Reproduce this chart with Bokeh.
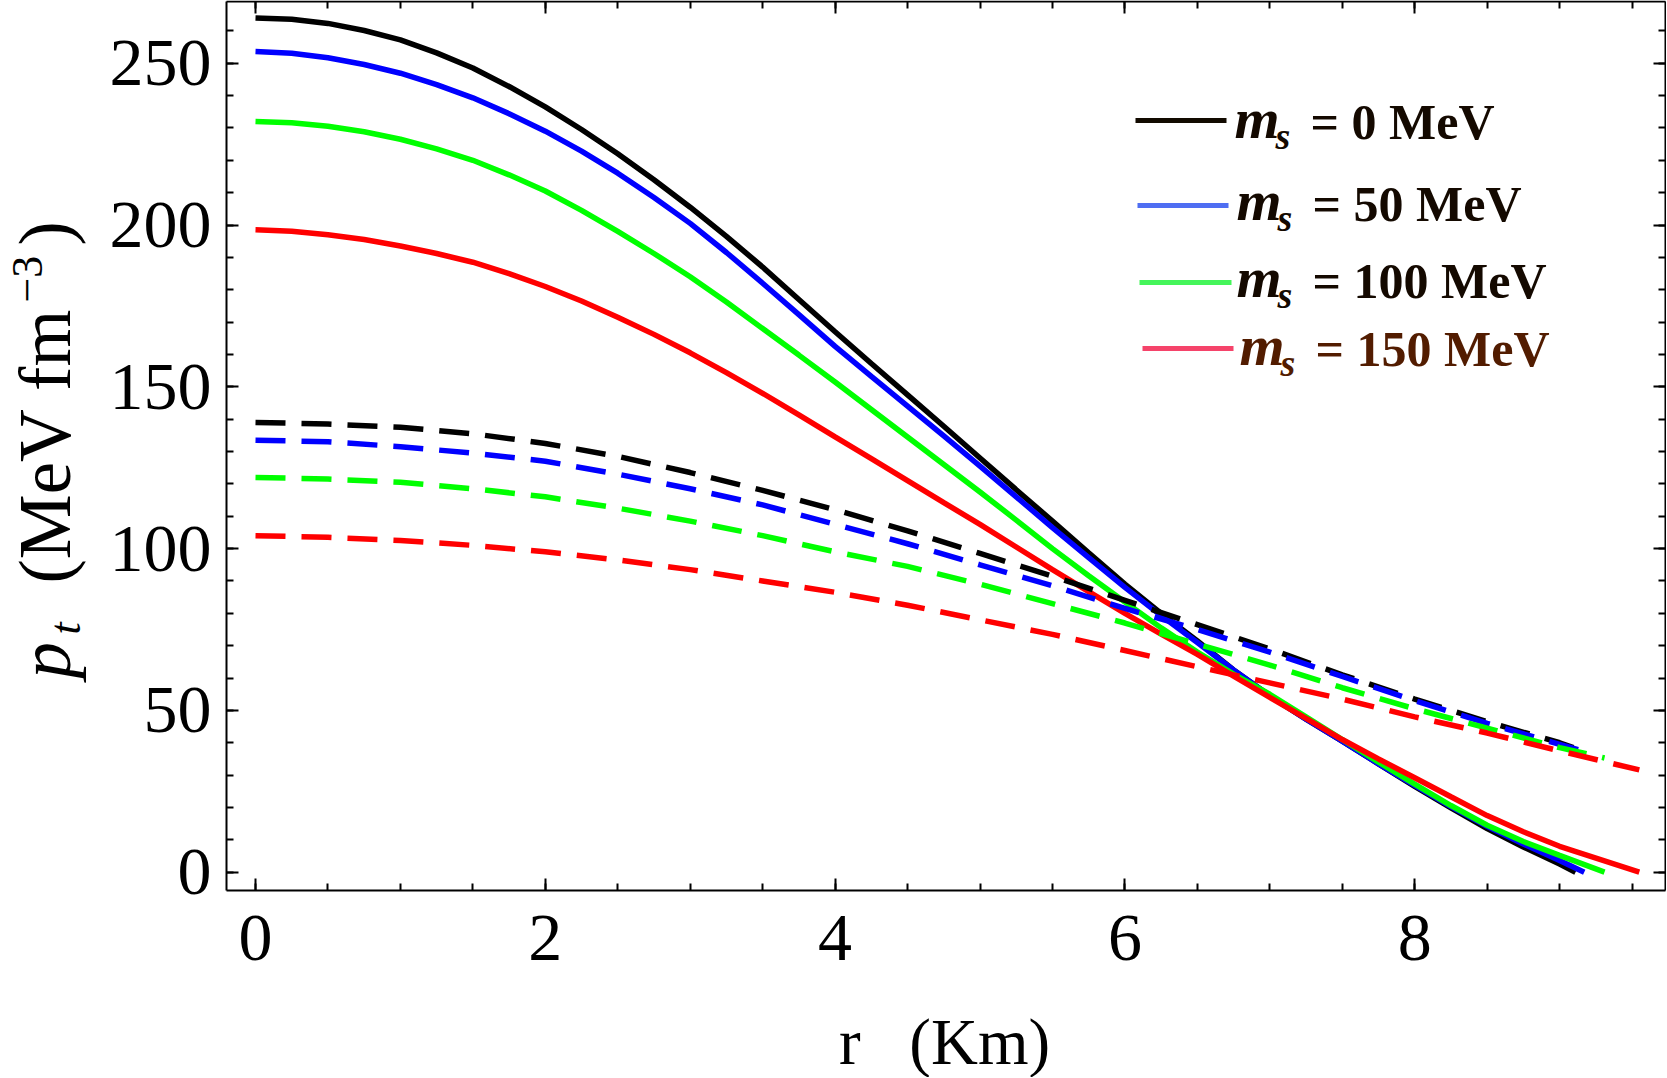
import math
from bokeh.plotting import figure
from bokeh.models import (Range1d, LinearAxis, SingleIntervalTicker, Label, BoxAnnotation,
                          CustomJSTickFormatter)
from bokeh.embed import file_html
from bokeh.resources import INLINE

# ---------------- data ----------------
ms_values = ["0", "50", "100", "150"]
r_end = [9.11, 9.17, 9.31, 9.55]          # radius where each star ends (Km)

r_fine = [0, 0.25, 0.5, 0.75, 1, 1.25, 1.5, 1.75, 2, 2.25, 2.5, 2.75, 3, 3.25, 3.5, 3.75,
          4, 4.25, 4.5, 4.75, 5, 5.25, 5.5, 5.75, 6, 6.25, 6.5, 6.75, 7, 7.25, 7.5, 7.75,
          8, 8.25, 8.5, 8.75, 9]
r_coarse = [0, 0.5, 1, 1.5, 2, 2.5, 3, 3.5, 4, 4.5, 5, 5.5, 6, 6.5, 7, 7.5, 8, 8.5, 9]

# solid curves (on r_fine, then the end point)
pt_solid_ms0 = [264, 263.6, 262.3, 260.1, 257.2, 253.2, 248.5, 242.8, 236.5, 229.5, 222, 214,
                205.5, 196.5, 187, 177, 167, 157.2, 147.5, 137.8, 128, 118.2, 108.5, 98.7,
                89, 80, 71.5, 62.5, 54.5, 47.3, 40.5, 33.5, 26.5, 19.9, 13.5, 7.8, 2.5, 0]
pt_solid_ms50 = [253.6, 253.1, 251.7, 249.6, 246.9, 243.4, 239.3, 234.4, 229, 222.8, 216, 208.5,
                 200.5, 191.5, 182, 172.3, 162.5, 153.2, 144, 134.8, 125.5, 116, 106.5, 97.2,
                 88, 79.3, 71, 62.5, 54.5, 47.3, 40.5, 33.5, 26.8, 20.3, 14.2, 8.7, 3.6, 0]
pt_solid_ms100 = [232, 231.6, 230.5, 228.8, 226.5, 223.5, 220, 215.5, 210.5, 204.5, 198, 191.2,
                  184, 176.2, 168, 159.8, 151.5, 143, 134.5, 126, 117.5, 108.8, 100, 91.6,
                  83.5, 75.5, 68, 61.2, 55, 48, 41, 34, 27.2, 20.6, 14.5, 9.5, 5.2, 0]
pt_solid_ms150 = [198.5, 198.1, 197, 195.5, 193.5, 191.2, 188.5, 185, 181, 176.5, 171.5, 166.2,
                  160.5, 154.4, 148, 141.3, 134.5, 127.8, 121, 114.2, 107.5, 100.5, 93.5, 86.7,
                  80, 73.6, 67.3, 60.6, 54, 47.5, 41, 35, 29.2, 23.3, 17.5, 12.5, 8, 0]

# dashed curves (on r_coarse, then the end point)
pt_dash_ms0 = [139, 138.5, 137.5, 135.5, 132.5, 128.5, 123.5, 118, 112, 105.5, 98.5, 91.5,
               84, 76.5, 69, 61, 53.5, 46.5, 40, 38.3]
pt_dash_ms50 = [133.5, 133, 131.5, 129.5, 127, 123, 118.5, 113.5, 107.5, 101.5, 95, 88.5,
                81.5, 75, 68, 60.5, 53, 46, 39.5, 37.3]
pt_dash_ms100 = [122, 121.5, 120.5, 118.5, 116, 112.5, 108.5, 104, 99, 94.5, 89, 83, 77, 70.5,
                 64, 57, 50.5, 44.5, 38.5, 35.3]
pt_dash_ms150 = [104, 103.5, 102.5, 101, 99, 96.5, 93.5, 90, 86.5, 82.5, 78, 73.5, 68.5, 63.5,
                 58.5, 53.5, 48, 43, 37.5, 31.6]

solid_series = [pt_solid_ms0, pt_solid_ms50, pt_solid_ms100, pt_solid_ms150]
dash_series = [pt_dash_ms0, pt_dash_ms50, pt_dash_ms100, pt_dash_ms150]

x_tick_interval = 2
y_tick_interval = 50

# ---------------- layout / styles ----------------
W, H = 1666, 1077                 # canvas size (px)
PX_X, X0 = 144.9, 255.0           # px per Km, pixel column of r = 0
PX_Y, Y0 = 3.236, 871.7           # px per unit, pixel row of p = 0
BOX_L, BOX_R, BOX_T, BOX_B = 226, 1665, 1, 890   # plot box edges (px)


def dx(px):
    return (px - X0) / PX_X


def dy(py):
    return (Y0 - py) / PX_Y


line_colors = ["#000000", "#0000ff", "#00ff00", "#ff0000"]
legend_swatch_colors = ["#120a00", "#4f6ef2", "#45f55a", "#f5436a"]
legend_text_colors = ["#140900", "#140900", "#140900", "#521c00"]
FONT = "Liberation Serif"

p = figure(width=W, height=H,
           x_range=Range1d(dx(0), dx(W)), y_range=Range1d(dy(H), dy(0)),
           output_backend="svg", toolbar_location=None,
           min_border_left=0, min_border_right=0, min_border_top=0, min_border_bottom=0)
p.grid.visible = False
p.background_fill_color = "white"
p.border_fill_color = "white"
p.outline_line_color = None

xb = (dx(BOX_L), dx(BOX_R))
yb = (dy(BOX_B), dy(BOX_T))


def style_axis(ax, labels=True):
    ax.axis_line_width = 2
    ax.axis_line_color = "black"
    ax.major_tick_in = 12
    ax.major_tick_out = 0
    ax.minor_tick_in = 7
    ax.minor_tick_out = 0
    ax.major_tick_line_width = 2
    ax.minor_tick_line_width = 2
    ax.major_tick_line_color = "black"
    ax.minor_tick_line_color = "black"
    if labels:
        ax.major_label_text_font = FONT
        ax.major_label_text_font_size = "68px"
        ax.major_label_text_color = "black"
    else:
        ax.formatter = CustomJSTickFormatter(code="return ''")
        ax.major_label_standoff = 0


bx = p.xaxis[0]
ly = p.yaxis[0]
bx.ticker = SingleIntervalTicker(interval=x_tick_interval, num_minor_ticks=4)
ly.ticker = SingleIntervalTicker(interval=y_tick_interval, num_minor_ticks=5)
bx.fixed_location = yb[0]
ly.fixed_location = xb[0]
bx.bounds = xb
ly.bounds = yb
style_axis(bx)
style_axis(ly)
bx.major_label_standoff = 25
ly.major_label_standoff = 15

top_ax = LinearAxis(ticker=SingleIntervalTicker(interval=x_tick_interval, num_minor_ticks=4),
                    fixed_location=yb[1], bounds=xb)
right_ax = LinearAxis(ticker=SingleIntervalTicker(interval=y_tick_interval, num_minor_ticks=5),
                      fixed_location=xb[1], bounds=yb)
style_axis(top_ax, labels=False)
style_axis(right_ax, labels=False)
p.add_layout(top_ax, "above")
p.add_layout(right_ax, "right")

# ---------------- curves ----------------
for ys, c, re in zip(solid_series, line_colors, r_end):
    p.line(r_fine + [re], ys, line_color=c, line_width=5.5)
for ys, c, re in zip(dash_series, line_colors, r_end):
    p.line(r_coarse + [re], ys, line_color=c, line_width=5.5, line_dash="30 16")

# ---------------- texts (pixel positions given as text baselines) ----------------
MID = 0.3375   # (ascent - descent) / 2 in em for Liberation Serif


def add_text(txt, px, py, size, style="normal", color="black", angle=0.0, align="left"):
    if angle == 0.0:
        ax_, ay_ = px, py - MID * size
    else:  # text rotated to read upwards: baseline lies to the right
        ax_, ay_ = px - MID * size, py
    p.add_layout(Label(x=ax_, y=H - ay_, x_units="screen", y_units="screen",
                       text=txt, text_font=FONT, text_font_size=f"{size}px",
                       text_font_style=style, text_color=color, angle=angle,
                       text_align=align, text_baseline="middle"))


# x-axis title
add_text("r\u00a0\u00a0\u00a0(Km)", 944, 1063, 65, align="center")

# y-axis title (reads upwards)
A = math.pi / 2
add_text("p", 70, 678, 73, style="italic", angle=A)
add_text("t", 80, 634, 44, style="italic", angle=A)
add_text("(MeV\u00a0fm", 70, 583, 73, angle=A)
add_text("\u22123", 42, 302, 44, angle=A)
add_text(")", 70, 245, 73, angle=A)

# ---------------- legend ----------------
leg_line_y = [120, 205, 282, 348]
leg_line_x0 = [1135, 1137, 1139, 1142]
leg_line_x1 = [1226, 1228, 1231, 1233]
leg_base = [138, 220, 297, 365]
leg_m_x = [1234, 1236, 1236, 1239]
leg_eq_x = [1310, 1312, 1312, 1315]

for i, ms in enumerate(ms_values):
    yl = leg_line_y[i]
    p.add_layout(BoxAnnotation(left=leg_line_x0[i], right=leg_line_x1[i],
                               bottom=H - (yl + 2.5), top=H - (yl - 2.5),
                               left_units="screen", right_units="screen",
                               bottom_units="screen", top_units="screen",
                               fill_color=legend_swatch_colors[i], fill_alpha=1.0,
                               line_alpha=0))
    col = legend_text_colors[i]
    add_text("m", leg_m_x[i], leg_base[i], 58, style="bold italic", color=col)
    add_text("s", leg_m_x[i] + 41, leg_base[i] + 10, 38, style="bold italic", color=col)
    add_text("= " + ms + " MeV", leg_eq_x[i], leg_base[i], 50, style="bold", color=col)

open("out.html", "w").write(file_html(p, INLINE))
